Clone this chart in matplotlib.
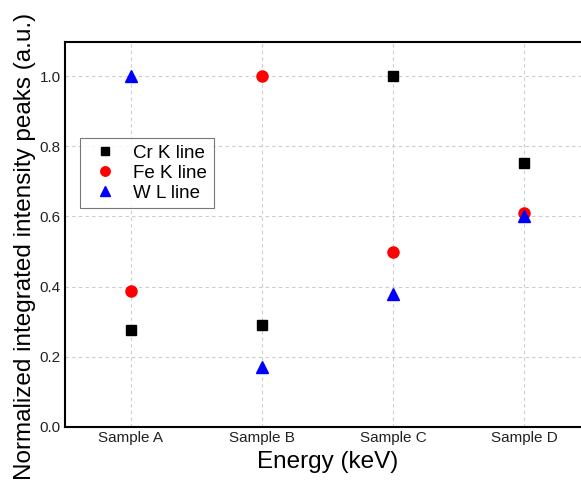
import matplotlib.pyplot as plt

plt.rcParams['font.family'] = ['Liberation Sans', 'DejaVu Sans']

samples = ['Sample A', 'Sample B', 'Sample C', 'Sample D']
cr_k = [0.275, 0.29, 1.0, 0.752]
fe_k = [0.388, 1.0, 0.499, 0.61]
w_l = [1.0, 0.171, 0.379, 0.601]
y_ticks = [0.0, 0.2, 0.4, 0.6, 0.8, 1.0]

fig = plt.figure(figsize=(5.81, 4.8), dpi=100)
# right edge of the axes runs past the figure, as in the original
ax = fig.add_axes([65 / 581, 1 - 427 / 480, (590 - 65) / 581, (427 - 42) / 480])

x = list(range(len(samples)))
ax.plot(x, cr_k, 's', color='black', markersize=7.5, label='Cr K line', zorder=3)
ax.plot(x, fe_k, 'o', color='red', markersize=8, label='Fe K line', zorder=3)
ax.plot(x, w_l, '^', color='blue', markersize=8, label='W L line', zorder=4)

ax.set_xlim(-0.5, 3.5)
ax.set_ylim(0, 1.097)
ax.set_xticks(x)
ax.set_xticklabels(samples)
ax.set_yticks(y_ticks)
ax.set_yticklabels(['%.1f' % v for v in y_ticks])
ax.tick_params(length=0, labelsize=11, pad=3, labelcolor='#222222')
ax.grid(True, linestyle=(0, (3, 3)), color='#cccccc', linewidth=0.8)

for side in ['left', 'bottom', 'top']:
    ax.spines[side].set_linewidth(1.5)
ax.spines['right'].set_visible(False)

ax.set_xlabel('Energy (keV)', fontsize=17.5, labelpad=4)
ax.set_ylabel('Normalized integrated intensity peaks (a.u.)', fontsize=17.5)
ax.yaxis.set_label_coords(-0.055, 0.47)

leg = ax.legend(loc='upper left', bbox_to_anchor=(0.01, 0.775), fontsize=13.5,
                frameon=True, fancybox=False, handletextpad=0.5,
                borderpad=0.35, labelspacing=0.15, handlelength=2.0,
                markerscale=0.85)
leg.get_frame().set_edgecolor('#555555')
leg.get_frame().set_linewidth(0.8)

plt.savefig('out.png', dpi=100)
